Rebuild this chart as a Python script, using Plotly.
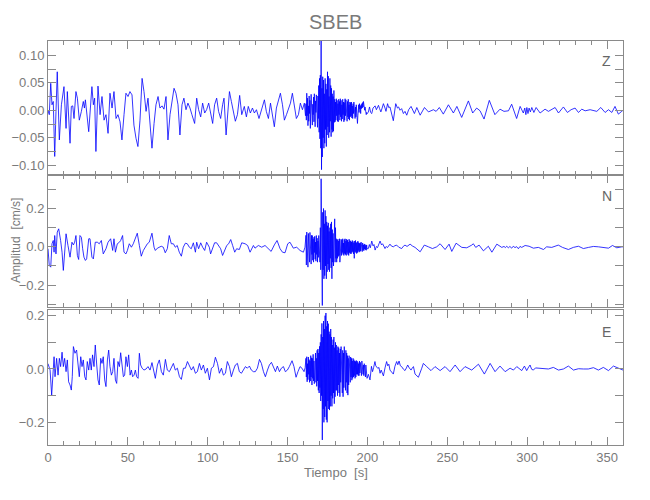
import plotly.graph_objects as go

# ---------------- data (time [s], amplitude [cm/s]) ----------------
burst_t0 = 161.5      # first sample of the dense strong-motion window
burst_dt = 0.25       # sample interval inside that window

z_pre = [(0.0,0.000),(0.8,-0.008),(1.7,0.049),(2.5,0.010),(3.3,0.016),(4.2,-0.084),(5.0,-0.002),(5.8,0.070),
         (7.1,-0.054),(8.4,0.010),(10.0,0.043),(11.3,-0.033),(12.1,0.034),(13.8,-0.060),(14.6,0.007),(15.5,0.008),
         (16.3,-0.015),(17.5,0.034),(18.4,0.022),(19.6,-0.018),(20.9,-0.002),(22.1,0.016),(22.8,0.004),(23.4,0.019),
         (25.5,-0.039),(26.3,0.001),(27.5,0.043),(28.4,0.010),(29.2,0.022),(30.0,-0.075),(31.3,0.044),(32.6,-0.008),
         (33.8,0.025),(35.1,-0.018),(36.3,-0.008),(37.6,-0.042),(38.8,0.031),(40.1,0.004),(41.3,0.034),(42.6,-0.015),
         (43.8,-0.008),(45.1,-0.021),(46.3,-0.054),(47.6,-0.008),(48.8,0.031),(50.1,0.025),(51.3,0.034),(52.6,0.028),
         (53.8,-0.027),(55.1,-0.051),(56.3,-0.066),(57.6,-0.018),(58.9,0.058),(60.1,0.034),(61.4,-0.002),(62.6,0.022),
         (63.9,-0.024),(65.1,-0.069),(66.4,-0.024),(67.6,0.010),(68.9,0.025),(70.1,0.004),(71.4,0.008),(72.6,0.002),
         (73.9,0.025),(75.1,-0.054),(76.4,-0.008),(77.6,0.016),(78.9,0.040),(80.1,0.031),(81.4,0.010),(82.6,-0.045),
         (83.9,0.010),(85.1,0.022),(86.4,0.001),(87.6,0.013),(88.9,0.004),(90.1,-0.008),(91.8,-0.024),(93.1,0.022),
         (94.3,0.001),(95.6,-0.012),(96.8,0.013),(98.1,-0.005),(99.3,0.001),(100.6,0.013),(101.8,-0.008),(103.1,-0.024),
         (104.3,0.010),(105.6,0.022),(106.8,-0.002),(108.1,-0.015),(109.3,0.010),(110.2,0.022),(111.5,-0.045),(112.7,0.010),
         (113.6,0.034),(114.8,0.016),(116.1,-0.002),(117.3,-0.020),(118.6,-0.008),(120.0,0.027),(121.3,-0.008),(122.9,0.007),
         (124.2,-0.012),(125.4,0.007),(126.7,-0.005),(128.0,0.004),(129.2,-0.005),(130.5,0.001),(132.1,-0.015),(133.8,0.001),
         (135.5,0.019),(136.7,-0.002),(138.0,-0.015),(139.3,0.013),(140.5,-0.008),(141.7,-0.030),(143.0,0.004),(144.3,0.016),
         (145.5,0.031),(146.8,0.010),(148.0,-0.018),(149.3,-0.008),(150.5,0.001),(151.8,0.013),(153.0,0.031),(154.3,0.010),
         (155.5,-0.015),(156.8,-0.008),(158.0,0.013),(159.3,0.001),(160.5,0.013),(161.2,-0.010)]

z_burst = [0.012,-0.018,0.031,-0.010, 0.022,-0.028,0.008,-0.020, 0.026,-0.006,0.018,-0.033, 0.004,0.029,-0.015,0.020,
           -0.027,0.011,-0.008,0.024, -0.021,0.030,-0.012,-0.030, 0.017,-0.004,0.028,-0.024, 0.010,-0.031,0.026,-0.015,
           0.045,-0.040,0.058,-0.052, 0.064,-0.069,0.126,-0.108, 0.040,-0.085,0.061,-0.050, 0.055,-0.069,0.030,-0.060,
           0.058,-0.035,0.048,-0.066, 0.038,-0.045,0.070,-0.030, 0.062,-0.050,0.025,-0.040, 0.058,-0.020,0.045,-0.048,
           0.040,-0.035,0.030,-0.040, 0.025,-0.038,0.036,-0.022, 0.020,-0.021,0.015,-0.018, 0.021,-0.010,0.018,-0.020,
           0.012,-0.021,0.020,-0.008, 0.016,-0.018,0.021,-0.012, 0.018,-0.020,0.010,-0.016, 0.020,-0.008,0.015,-0.021,
           0.014,-0.018,0.021,-0.010, 0.019,-0.015,0.012,-0.020, 0.016,-0.012,0.020,-0.016, 0.010,-0.018,0.015,-0.012,
           0.014,-0.010,0.015,-0.014, 0.008,-0.015,0.012,-0.006, 0.015,-0.010,0.011,-0.015, 0.006,-0.012,0.010,-0.014,
           -0.018,-0.024,-0.010,0.005, 0.010,-0.004,0.012,0.002, 0.008,-0.006,0.010,0.003, 0.012,0.004,0.014,0.006,
           0.016,0.008,0.012,0.000, 0.006,-0.006,0.002,-0.008, -0.004,-0.006]

z_post = [(200.5,-0.004),(201.3,0.006),(202.0,-0.004),(202.7,-0.006),(203.5,0.004),(204.8,0.008),(205.6,0.001),
          (206.9,0.009),(207.6,0.003),(208.4,-0.003),(209.2,0.004),(210.0,0.012),(211.0,0.004),(211.6,-0.002),
          (212.6,0.012),(213.3,0.005),(214.1,0.006),(215.0,-0.005),(216.2,-0.019),(217.7,0.012),(218.8,0.004),
          (219.5,0.006),(220.4,0.000),(221.4,0.003),(222.5,-0.006),(223.5,-0.002),(224.6,-0.009),(225.8,0.001),
          (227.3,0.007),(229.4,-0.006),(230.9,0.005),(233.0,-0.009),(235.7,0.005),(238.2,-0.003),(239.2,-0.002),
          (241.3,0.001),(243.0,-0.002),(245.0,0.005),(247.5,-0.007),(250.7,0.010),(253.8,-0.005),(256.0,0.007),
          (259.0,-0.013),(263.2,0.017),(265.9,-0.005),(268.4,0.004),(270.5,-0.001),(273.0,-0.016),(276.3,0.018),
          (279.8,-0.008),(283.0,0.002),(285.5,-0.002),(288.3,-0.001),(290.3,0.011),(293.4,-0.015),(295.6,0.007),
          (297.6,-0.005),(298.5,0.004),(299.2,-0.008),(299.8,0.005),(300.5,-0.006),(301.2,0.004),(302.0,-0.003),
          (302.9,0.005),(304.2,-0.004),(305.6,0.005),(308.1,-0.005),(311.2,0.002),(313.3,-0.002),(315.5,0.001),
          (317.5,0.005),(319.6,-0.005),(322.7,0.006),(325.2,-0.004),(327.5,0.001),(330.0,0.004),(332.1,-0.004),
          (334.2,0.002),(336.3,-0.001),(339.4,0.001),(341.5,-0.001),(343.6,-0.002),(346.1,0.005),(348.8,-0.004),
          (350.9,0.001),(353.0,-0.004),(355.0,0.007),(357.1,-0.007),(359.2,-0.002),(360.0,0.000)]

n_pre = [(0.0,-0.010),(0.8,-0.097),(1.7,-0.106),(2.5,0.016),(3.3,0.033),(3.8,-0.028),(4.2,0.059),(5.0,-0.037),
         (5.8,0.077),(6.7,0.094),(7.9,0.033),(8.8,-0.028),(9.6,-0.123),(10.4,-0.010),(11.3,0.068),(12.5,0.007),
         (13.8,-0.054),(15.0,0.024),(15.9,0.010),(16.7,0.024),(17.5,0.059),(18.4,-0.045),(19.2,-0.066),(20.0,0.059),
         (20.9,0.050),(21.7,-0.010),(22.5,-0.054),(23.4,-0.071),(24.2,-0.063),(25.5,0.042),(26.3,0.042),(27.5,-0.054),
         (28.4,-0.063),(29.6,0.024),(30.9,0.024),(32.1,0.016),(33.4,0.033),(34.6,-0.037),(36.3,-0.010),(37.6,0.024),
         (39.2,0.042),(40.5,-0.019),(41.3,0.042),(42.2,-0.028),(43.4,0.016),(44.7,0.024),(45.5,0.033),(46.7,0.059),
         (47.6,-0.028),(48.8,-0.037),(49.7,-0.019),(50.9,0.016),(52.2,-0.002),(53.4,0.016),(54.7,0.050),(55.9,0.071),
         (57.2,0.007),(58.4,-0.049),(59.7,-0.019),(60.9,-0.002),(62.2,0.016),(63.4,0.024),(65.1,0.071),(66.4,-0.002),
         (67.2,-0.019),(68.5,-0.007),(69.7,-0.002),(70.9,0.003),(72.2,-0.002),(73.4,-0.031),(74.7,-0.010),(75.9,0.059),
         (77.2,0.016),(78.5,0.016),(79.7,-0.002),(80.9,0.007),(82.2,-0.028),(83.5,-0.049),(84.7,-0.002),(86.0,0.019),
         (87.2,0.016),(88.5,-0.002),(89.7,-0.010),(91.0,0.021),(92.3,-0.028),(93.1,0.024),(94.3,-0.010),(95.6,0.021),
         (96.8,-0.002),(98.1,-0.019),(99.3,0.024),(101.0,-0.002),(101.8,-0.037),(103.1,-0.002),(104.3,0.021),
         (105.6,0.021),(106.8,0.007),(108.1,-0.010),(109.3,-0.045),(110.6,-0.014),(111.9,0.007),(113.1,0.016),
         (114.4,0.038),(115.6,0.007),(116.9,-0.028),(118.1,-0.010),(119.8,-0.014),(121.3,0.021),(123.4,0.016),
         (125.0,0.007),(126.5,-0.028),(128.6,0.007),(129.6,-0.007),(131.7,0.007),(133.8,-0.002),(135.9,0.007),
         (138.0,-0.010),(139.7,-0.024),(141.7,0.010),(143.4,0.033),(145.3,-0.010),(146.8,-0.028),(148.4,-0.031),
         (150.1,0.016),(151.5,0.024),(153.6,-0.007),(155.7,-0.002),(157.8,-0.019),(159.9,-0.028),(160.9,-0.002)]

n_burst = [0.060,-0.095,0.077,-0.060, 0.040,-0.106,0.070,-0.030, 0.055,-0.080,0.075,-0.050, 0.030,-0.090,0.060,-0.040,
           0.059,-0.070,0.040,-0.080, 0.050,-0.030,0.055,-0.065, 0.025,-0.075,0.059,-0.040, 0.045,-0.080,0.030,-0.055,
           0.059,-0.050,0.045,-0.080, 0.100,-0.120,0.355,-0.150, 0.150,-0.306,0.180,-0.120, 0.200,-0.167,0.120,-0.150,
           0.190,-0.100,0.160,-0.167, 0.130,-0.130,0.110,-0.090, 0.125,-0.120,0.080,-0.130, 0.100,-0.060,0.120,-0.110,
           0.130,-0.167,0.090,-0.080, 0.070,-0.100,0.060,-0.070, 0.146,-0.080,0.100,-0.060, 0.042,-0.080,0.035,-0.060,
           0.040,-0.050,0.030,-0.045, 0.042,-0.080,0.025,-0.040, 0.040,-0.045,0.035,-0.030, 0.042,-0.040,0.020,-0.045,
           0.038,-0.035,0.042,-0.040, 0.030,-0.045,0.040,-0.030, 0.035,-0.040,0.025,-0.045, 0.040,-0.030,0.033,-0.035,
           0.030,-0.037,0.025,-0.030, 0.033,-0.025,0.028,-0.037, 0.020,-0.060,0.030,-0.025, 0.033,-0.030,0.020,-0.035,
           0.025,-0.030,0.030,-0.020, 0.022,-0.028,0.018,-0.025, 0.020,-0.022,0.025,-0.015, 0.015,-0.025,0.020,-0.018,
           0.010,-0.020,0.015,-0.012, 0.012,-0.015,0.008,-0.018, 0.010,-0.010]

n_post = [(200.5,-0.010),(201.2,0.012),(201.8,-0.005),(202.7,0.030),(203.5,0.005),(204.1,0.012),(204.8,-0.017),
          (205.6,0.002),(206.3,-0.004),(207.9,0.030),(208.8,0.010),(209.5,0.016),(211.0,-0.009),(211.8,0.002),
          (212.5,-0.004),(214.1,0.014),(215.0,0.004),(216.2,0.000),(217.2,0.006),(218.3,0.009),(219.6,-0.002),
          (221.4,-0.009),(222.5,0.003),(223.5,0.009),(224.8,0.002),(226.7,0.014),(228.2,0.004),(229.8,-0.003),
          (233.0,-0.026),(235.6,0.009),(238.2,0.000),(240.7,-0.009),(243.4,0.000),(245.5,0.016),(248.6,-0.014),
          (251.1,0.014),(252.8,-0.024),(255.5,0.019),(259.1,-0.003),(262.2,-0.005),(265.3,0.009),(266.3,0.016),
          (267.8,-0.003),(269.9,0.009),(272.6,-0.021),(275.7,0.003),(277.9,-0.028),(281.0,0.014),(284.1,-0.003),
          (285.5,0.002),(286.4,-0.004),(287.2,0.003),(288.2,-0.005),(289.2,0.002),(290.3,-0.007),(291.3,0.003),
          (292.4,-0.004),(293.4,0.001),(294.5,-0.010),(295.5,0.002),(296.6,-0.003),(298.7,0.007),(301.2,0.003),
          (303.9,-0.007),(307.0,-0.003),(310.2,-0.014),(312.2,0.000),(315.4,-0.003),(319.5,0.009),(322.1,-0.003),
          (325.8,-0.014),(328.9,-0.003),(332.1,0.003),(335.2,-0.009),(338.4,-0.003),(341.5,0.002),(344.6,0.000),
          (347.7,-0.003),(350.9,-0.007),(353.4,0.007),(356.1,-0.005),(359.3,0.000),(360.0,0.000)]

e_pre = [(0.0,0.020),(1.3,-0.004),(2.3,-0.098),(2.9,-0.035),(3.8,0.046),(4.4,-0.029),(5.4,0.040),(6.3,-0.023),
         (7.1,0.040),(7.9,0.009),(8.8,0.063),(9.6,0.009),(10.4,0.040),(11.3,-0.010),(12.1,0.034),(12.9,-0.048),
         (13.8,-0.060),(14.6,-0.079),(15.2,-0.029),(15.9,0.084),(16.9,0.059),(17.9,0.071),(18.8,0.015),(19.6,-0.029),
         (20.5,0.046),(21.3,0.009),(22.1,0.034),(23.0,-0.029),(23.8,-0.041),(24.6,0.028),(25.5,-0.004),(26.3,0.040),
         (27.1,-0.004),(27.9,0.053),(28.8,0.009),(29.6,0.090),(30.5,0.015),(31.3,-0.041),(32.1,-0.060),(33.0,0.040),
         (33.8,0.021),(34.6,0.046),(35.5,-0.041),(36.3,-0.066),(37.2,0.034),(38.0,0.071),(38.8,0.009),(39.7,-0.023),
         (40.5,-0.010),(41.3,0.040),(42.2,-0.041),(43.0,-0.054),(43.8,0.028),(44.7,0.009),(45.5,0.061),(46.3,0.009),
         (47.2,-0.029),(48.0,-0.023),(48.8,0.046),(49.7,0.009),(50.5,0.053),(51.4,-0.023),(52.2,-0.004),(53.0,-0.029),
         (53.9,-0.023),(54.7,-0.004),(55.5,-0.029),(56.4,-0.035),(57.2,0.059),(58.0,0.015),(58.9,0.003),(60.1,-0.004),
         (61.4,0.000),(62.6,0.009),(63.9,-0.004),(65.1,0.024),(66.4,-0.010),(67.2,-0.035),(68.5,0.015),(69.7,0.034),
         (71.0,-0.010),(72.2,-0.023),(73.5,0.036),(74.7,-0.004),(76.0,-0.010),(77.2,0.003),(78.5,0.021),(79.7,-0.004),
         (81.0,0.003),(82.3,-0.029),(83.5,-0.039),(84.8,0.003),(86.0,0.003),(87.3,0.028),(88.5,0.015),(89.8,-0.004),
         (91.0,0.009),(92.3,-0.016),(93.5,-0.010),(94.8,0.021),(96.0,-0.004),(97.3,0.015),(98.5,-0.016),(99.8,0.003),
         (101.1,-0.041),(102.3,0.003),(103.6,0.009),(104.8,0.044),(106.1,0.021),(107.3,-0.016),(108.6,0.003),
         (109.8,-0.023),(111.1,-0.016),(112.3,0.028),(113.6,0.009),(114.8,-0.029),(116.1,-0.004),(117.3,0.015),
         (118.6,0.021),(119.8,-0.010),(121.1,-0.016),(122.3,-0.004),(123.6,0.009),(124.8,0.003),(126.1,0.011),
         (127.3,-0.004),(128.6,-0.010),(129.8,-0.010),(131.1,0.003),(132.4,0.036),(133.6,0.021),(134.9,-0.010),
         (136.1,-0.029),(137.4,-0.004),(138.6,0.015),(139.9,0.025),(141.1,0.009),(142.4,-0.010),(143.6,0.011),
         (144.9,-0.010),(146.1,0.003),(147.4,0.009),(148.6,-0.010),(149.9,-0.004),(151.1,0.009),(152.8,0.031),
         (154.0,0.009),(155.3,-0.031),(156.5,-0.010),(157.8,0.009),(159.0,0.003),(160.3,-0.010),(161.0,0.005)]

e_burst = [0.040,-0.030,0.046,-0.048, 0.020,-0.040,0.045,-0.020, 0.035,-0.050,0.030,-0.045, 0.050,-0.030,0.042,-0.060,
           0.040,-0.035,0.055,-0.045, 0.030,-0.055,0.045,-0.030, 0.060,-0.050,0.040,-0.065, 0.070,-0.045,0.075,-0.080,
           0.060,-0.090,0.085,-0.070, 0.100,-0.120,0.130,-0.100, 0.171,-0.266,0.120,-0.150, 0.180,-0.200,0.150,-0.180,
           0.200,-0.140,0.210,-0.190, 0.160,-0.200,0.180,-0.120, 0.170,-0.150,0.140,-0.154, 0.130,-0.140,0.150,-0.100,
           0.120,-0.140,0.090,-0.110, 0.110,-0.090,0.120,-0.130, 0.080,-0.104,0.100,-0.080, 0.090,-0.080,0.070,-0.100,
           0.084,-0.060,0.080,-0.090, 0.060,-0.104,0.075,-0.050, 0.084,-0.070,0.050,-0.090, 0.070,-0.104,0.060,-0.070,
           0.084,-0.060,0.050,-0.080, 0.070,-0.050,0.060,-0.090, 0.050,-0.098,0.040,-0.060, 0.050,-0.040,0.035,-0.050,
           0.045,-0.030,0.040,-0.042, 0.030,-0.035,0.040,-0.030, 0.035,-0.025,0.030,-0.035, 0.028,-0.030,0.032,-0.020,
           0.030,-0.020,0.025,-0.025, 0.020,-0.025,0.030,-0.015, 0.025,-0.020,0.018,-0.025, 0.030,-0.010,0.020,-0.020,
           0.015,-0.025,0.020,-0.015, 0.010,-0.030,0.015,-0.020, 0.010,-0.035]

e_post = [(200.6,-0.020),(201.6,-0.041),(202.5,0.010),(203.2,-0.010),(203.9,0.006),(204.7,0.028),(205.2,0.012),
          (205.8,0.009),(206.5,0.002),(207.2,0.006),(207.9,-0.016),(208.6,-0.004),(209.2,-0.014),(210.0,-0.026),
          (211.0,0.004),(212.0,0.028),(212.7,0.012),(213.4,0.018),(214.1,-0.004),(215.0,-0.012),(216.2,-0.019),
          (217.2,0.010),(218.3,0.028),(219.0,0.016),(219.8,0.030),(220.6,0.012),(221.4,0.009),(222.4,0.000),
          (223.5,-0.006),(224.4,0.004),(225.2,0.015),(226.2,0.004),(227.3,-0.004),(228.0,0.003),(228.8,0.009),
          (229.8,-0.019),(231.9,-0.031),(234.0,0.003),(235.0,0.021),(237.1,0.009),(239.8,-0.006),(242.3,0.009),
          (245.5,-0.006),(248.6,0.009),(251.7,-0.010),(254.9,0.015),(258.0,-0.010),(261.1,0.009),(263.2,0.003),
          (265.3,-0.004),(269.5,0.018),(273.2,-0.019),(276.8,0.021),(279.9,-0.010),(283.0,0.011),(286.2,-0.010),
          (289.3,0.003),(291.4,-0.004),(293.5,0.009),(296.6,-0.006),(298.3,0.011),(299.7,-0.006),(300.6,0.004),
          (301.8,0.015),(302.8,-0.001),(303.9,-0.004),(305.2,0.004),(307.0,0.003),(310.2,-0.001),(313.3,0.000),
          (316.4,0.006),(319.6,-0.004),(322.7,0.000),(325.8,0.011),(329.0,-0.004),(332.1,0.001),(335.2,0.000),
          (338.3,0.000),(341.5,0.005),(344.6,-0.004),(347.7,0.006),(350.9,-0.006),(354.0,0.011),(357.1,0.003),
          (359.8,-0.004),(360.0,-0.004)]

components = ["Z", "N", "E"]
y_ranges = [[-0.118, 0.126], [-0.313, 0.374], [-0.285, 0.221]]
y_ticks = [[-0.10, -0.05, 0.00, 0.05, 0.10], [-0.2, 0.0, 0.2], [-0.2, 0.0, 0.2]]
y_tick_text = [["−0.10", "−0.05", "0.00", "0.05", "0.10"], ["−0.2", "0.0", "0.2"], ["−0.2", "0.0", "0.2"]]
y_minor = [0.025, 0.1, 0.1]
x_ticks = [0, 50, 100, 150, 200, 250, 300, 350]
station = "SBEB"
x_title = "Tiempo  [s]"
y_title = "Amplitud  [cm/s]"

# ---------------- figure ----------------
gc = "#8a8a8a"
tc = "#7a7a7a"
font_family = "Liberation Sans Narrow, Liberation Sans, Arial, sans-serif"

series = [(z_pre, z_burst, z_post), (n_pre, n_burst, n_post), (e_pre, e_burst, e_post)]
domains = [[0.668, 1.0], [0.342, 0.668], [0.0, 0.334]]

fig = go.Figure()
for i, (pre, burst, post) in enumerate(series):
    t = [p[0] for p in pre] + [burst_t0 + k * burst_dt for k in range(len(burst))] + [p[0] for p in post]
    v = [p[1] for p in pre] + list(burst) + [p[1] for p in post]
    sfx = "" if i == 0 else str(i + 1)
    fig.add_trace(go.Scatter(x=t, y=v, mode="lines", line=dict(color="#0000ff", width=0.8),
                             xaxis="x" + sfx, yaxis="y" + sfx, hoverinfo="skip", showlegend=False))

# the page body adds an 8 px offset, so margins are reduced accordingly
layout = dict(width=650, height=500, paper_bgcolor="white", plot_bgcolor="white",
              margin=dict(l=40, r=35, t=33, b=63, autoexpand=False),
              font=dict(family=font_family, color=tc, size=13))

for i in range(3):
    sfx = "" if i == 0 else str(i + 1)
    layout["xaxis" + sfx] = dict(domain=[0, 1], anchor="y" + sfx, range=[0, 360], automargin=False,
                                 tickmode="array", tickvals=x_ticks, ticks="inside", ticklen=8,
                                 tickcolor=gc, showline=True, linecolor=gc, linewidth=1, mirror="ticks",
                                 showgrid=False, zeroline=False, showticklabels=(i == 2),
                                 minor=dict(ticks="inside", ticklen=4, dtick=10, tick0=0, tickcolor=gc, showgrid=False),
                                 tickfont=dict(size=13, color=tc))
    if i != 0:
        layout["xaxis" + sfx]["matches"] = "x"
    layout["yaxis" + sfx] = dict(domain=domains[i], anchor="x" + sfx, range=y_ranges[i], automargin=False,
                                 tickmode="array", tickvals=y_ticks[i], ticktext=y_tick_text[i],
                                 ticks="inside", ticklen=8, tickcolor=gc, showline=True, linecolor=gc,
                                 linewidth=1, mirror="ticks", showgrid=False, zeroline=False,
                                 minor=dict(ticks="inside", ticklen=8, dtick=y_minor[i], tick0=0,
                                            tickcolor=gc, showgrid=False),
                                 tickfont=dict(size=13, color=tc))

fig.update_layout(**layout)

ann = [dict(text=station, x=0.5, y=1.047, xref="paper", yref="paper", showarrow=False,
            font=dict(size=20, color=tc), xanchor="center", yanchor="middle"),
       dict(text=x_title, x=0.5, y=-0.067, xref="paper", yref="paper", showarrow=False,
            font=dict(size=13, color=tc), xanchor="center", yanchor="middle"),
       dict(text=y_title, x=-0.056, y=0.507, xref="paper", yref="paper", showarrow=False, textangle=-90,
            font=dict(size=12, color=tc), xanchor="center", yanchor="middle")]
label_y = [0.950, 0.616, 0.280]
for c, yy in zip(components, label_y):
    ann.append(dict(text=c, x=0.972, y=yy, xref="paper", yref="paper", showarrow=False,
                    font=dict(size=14, color="#666666"), xanchor="center", yanchor="middle"))
fig.update_layout(annotations=ann)

fig.write_html("out.html")
